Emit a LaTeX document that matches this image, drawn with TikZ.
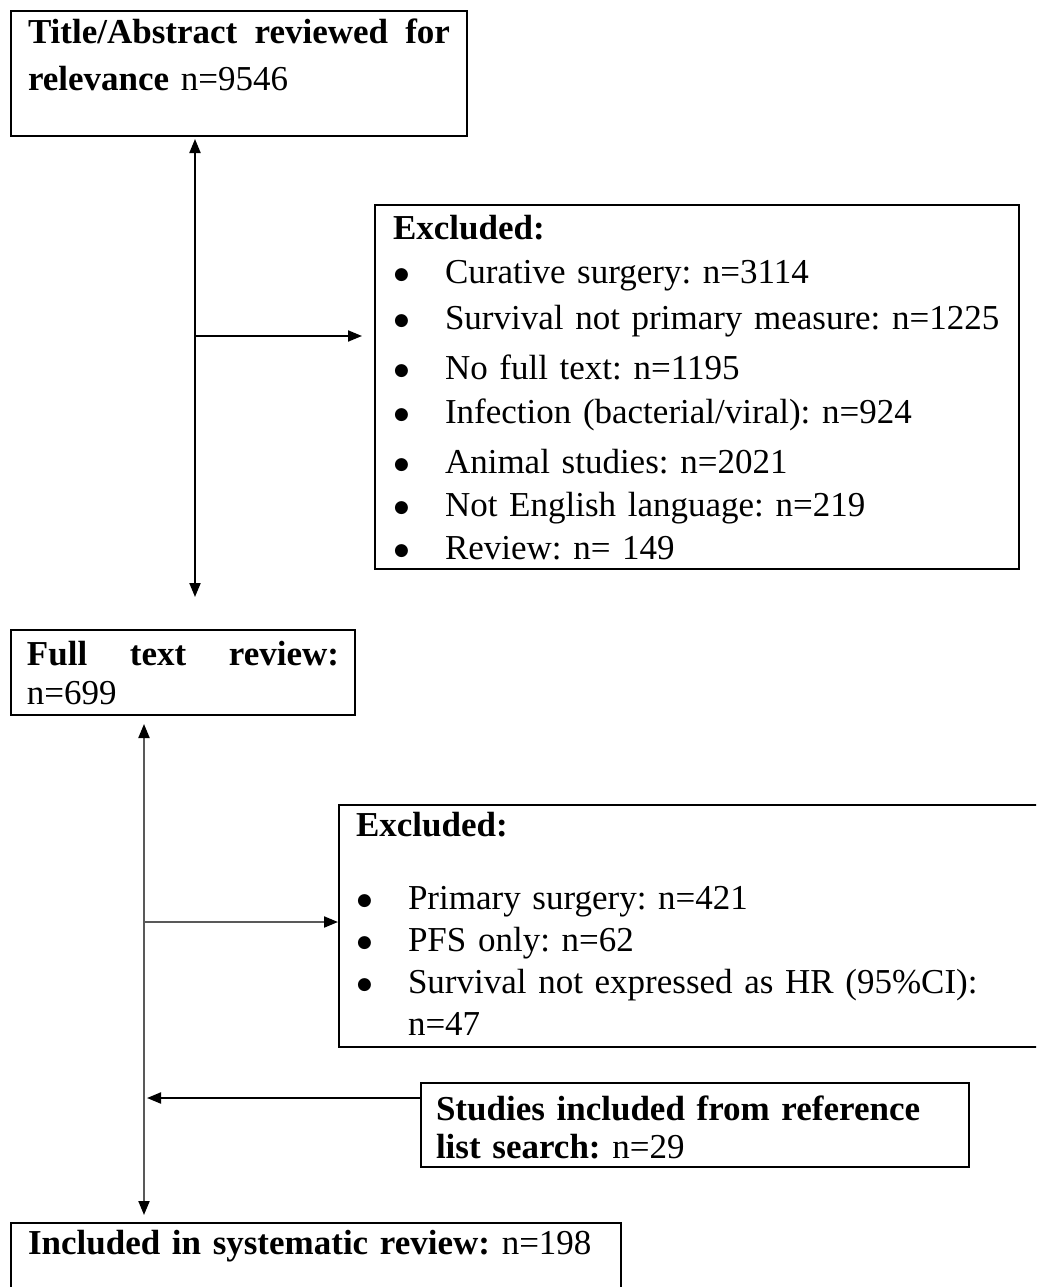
\documentclass[tikz,border=0pt]{standalone}
\usepackage{fontspec}
\setmainfont{Liberation Serif}
\newfontfamily\symfont{DejaVu Sans}
\usetikzlibrary{arrows.meta, positioning, calc}

\newcommand{\itm}[1]{\mbox{\makebox[52pt][l]{\hspace{1pt}\raisebox{4pt}{\symfont\fontsize{17}{17}\selectfont ●}}#1}}

\begin{document}
\begin{tikzpicture}[
    x=1pt, y=-1pt,
    line width=2pt,
    >={Triangle[length=14pt,width=11pt]},
    box/.style={rectangle, draw, line width=2pt, anchor=north west, align=left, inner ysep=0pt, font=\fontsize{35}{#1}\selectfont\frenchspacing},
    arrow/.style={->, line width=2pt},
    spine/.style={<->, line width=2pt},
    greyline/.style={draw=black!65, >={Triangle[length=14pt,width=11pt,color=black]}},
]
    \useasboundingbox (0,0) rectangle (1036,1287);
    \clip (0,0) rectangle (1036,1287);

    % Screening
    \node[box=47, inner xsep=17pt, text width=422pt, text height=33pt, text depth=92pt] (title) at (10,10)
        {\textbf{Title/Abstract\hfill reviewed\hfill for}\\\textbf{relevance} n=9546};

    % First exclusions
    \node[box=44, inner xsep=18pt, text width=608pt, text height=34pt, text depth=330pt] (excl1) at (374,204)
        {\textbf{Excluded:}\\
         \itm{Curative surgery: n=3114}\\[2pt]
         \itm{Survival not primary measure: n=1225}\\[6pt]
         \itm{No full text: n=1195}\\
         \itm{Infection (bacterial/viral): n=924}\\[6pt]
         \itm{Animal studies: n=2021}\\[-1pt]
         \itm{Not English language: n=219}\\[-1pt]
         \itm{Review: n= 149}};

    % Full text
    \node[box=39, inner xsep=16pt, text width=312pt, text height=35pt, text depth=50pt] (full) at (10,629)
        {\textbf{Full\hfill text\hfill review:}\\n=699};

    % Second exclusions
    \node[box=42, inner xsep=17pt, text width=688pt, text height=31pt, text depth=211pt] (excl2) at (338,804)
        {\textbf{Excluded:}\\[31pt]
         \itm{Primary surgery: n=421}\\
         \itm{PFS only: n=62}\\
         \itm{Survival not expressed as HR (95\%CI):}\\
         \hspace*{52pt}n=47};

    % Reference list
    \node[box=38, inner xsep=15pt, text width=518pt, text height=37pt, text depth=47pt] (studies) at (420,1082)
        {\textbf{Studies included from reference}\\\textbf{list search:} n=29};

    % Included
    \node[box=40, inner xsep=17pt, text width=576pt, text height=31pt, text depth=80pt] (final) at (10,1222)
        {\textbf{Included in systematic review:} n=198};

    \coordinate (s1) at (195,597);
    \coordinate (b1) at (195,336);
    \coordinate (s2) at (144,922);
    \coordinate (j1) at (144,1098);

    \draw[spine, shorten <=2pt] (s1 |- title.south) -- (s1);
    \draw[arrow, shorten >=12pt] (b1) -- (b1 -| excl1.west);

    \draw[spine, greyline, shorten <=8pt, shorten >=7pt] (s2 |- full.south) -- (s2 |- final.north);
    \draw[arrow, greyline] (s2) -- (s2 -| excl2.west);
    \draw[arrow, shorten >=3pt] (j1 -| studies.west) -- (j1);
\end{tikzpicture}
\end{document}
